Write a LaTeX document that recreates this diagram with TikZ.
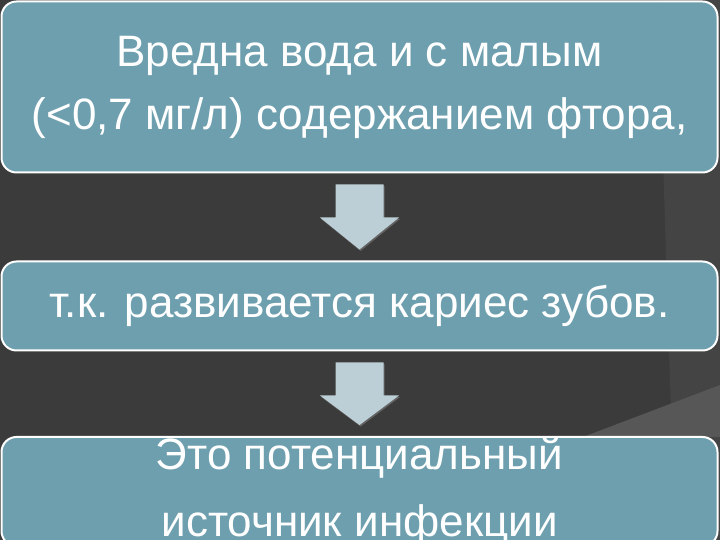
\documentclass[tikz,border=0pt]{standalone}
\usepackage{fontspec}
\setmainfont{Liberation Sans}
\usetikzlibrary{calc,shadows}

\definecolor{bgdark}{HTML}{3B3B3B}
\definecolor{bgstripe}{HTML}{444444}
\definecolor{boxfill}{HTML}{6E9FAE}
\definecolor{arrowfill}{HTML}{BCCFD6}

\tikzset{
  flowbox/.style={draw=white, line width=2pt, fill=boxfill, rounded corners=15pt,
    minimum width=716pt, inner sep=0pt, align=center, text=white,
    font=\fontsize{44}{63}\selectfont},
  arrowshape/.style={fill=arrowfill,
    drop shadow={shadow xshift=1pt, shadow yshift=-1.5pt, opacity=0.6}}
}

\begin{document}
\begin{tikzpicture}[x=1pt,y=1pt]

    % Background
    \useasboundingbox (0,0) rectangle (720,540);
    \clip (0,0) rectangle (720,540);
    \fill[bgdark] (0,0) rectangle (720,540);
    \fill[bgstripe] (658,540) -- (720,540) -- (720,0) -- (675,0) -- cycle;
    \fill[bgstripe!90!white] (583,103) -- (720,155) -- (720,103) -- cycle;

    % Boxes
    \node[flowbox, minimum height=171pt] (b1) at (359.5,453)
        {Вредна вода и с малым\\(<0,7 мг/л) содержанием фтора,};
    \node[flowbox, minimum height=89pt] (b2) at (359.5,234)
        {т.к. развивается кариес зубов.};
    \node[flowbox, minimum height=109pt, font=\fontsize{44}{67}\selectfont] (b3) at (359.5,48.5)
        {Это потенциальный\\источник инфекции};

    % Arrows
    \foreach \a/\b in {b1/b2, b2/b3}
        \fill[arrowshape] ($(\a.south)+(-24,-11)$) -- ++(48,0) -- ++(0,-33) -- ++(15.5,0)
            -- ($(\b.north)+(0,11)$) -- ($(\a.south)+(-39.5,-44)$) -- ++(15.5,0) -- cycle;

\end{tikzpicture}
\end{document}
